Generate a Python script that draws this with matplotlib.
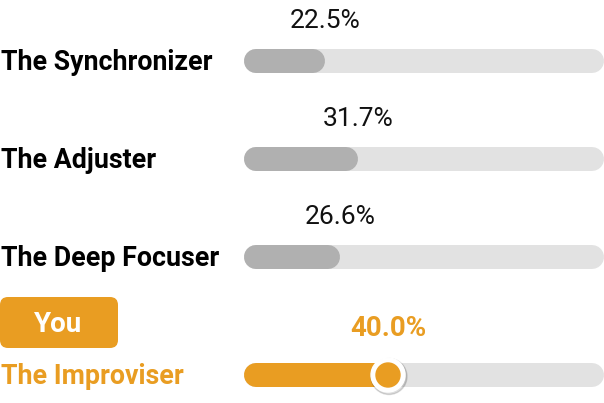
import matplotlib.pyplot as plt
from matplotlib.patches import FancyBboxPatch, Circle

plt.rcParams['font.family'] = 'Roboto'

# data
names = ['The Synchronizer', 'The Adjuster', 'The Deep Focuser', 'The Improviser']
values = [22.5, 31.7, 26.6, 40.0]
you_idx = 3

orange = '#E99D22'
gray_fill = '#B0B0B0'
track = '#E2E2E2'

fig = plt.figure(figsize=(6.04, 4.03), dpi=100)
ax = fig.add_axes([0, 0, 1, 1])
ax.set_xlim(0, 604)
ax.set_ylim(403, 0)
ax.axis('off')

x0, x1 = 244, 604   # track, 0..100 %
h = 24
rows = [61, 159, 257, 375]

for i, (nm, v) in enumerate(zip(names, values)):
    y = rows[i]
    me = (i == you_idx)
    col = orange if me else gray_fill
    xe = x0 + v / 100 * (x1 - x0)
    # track + fill, round caps
    ax.plot([x0 + h/2, x1 - h/2], [y, y], color=track, lw=h*0.72,
            solid_capstyle='round', zorder=1)
    ax.plot([x0 + h/2, xe - h/2], [y, y], color=col, lw=h*0.72,
            solid_capstyle='round', zorder=2)
    ax.text(1, y + 9, nm, ha='left', va='baseline', fontsize=19.3,
            fontweight='bold', color=orange if me else 'black')
    lx = x0 + max(v, 10) / 100 * (x1 - x0)
    if me:
        ax.add_patch(Circle((xe + 1, y + 1.5), 18, color='#00000022', zorder=3))
        ax.add_patch(Circle((xe, y), 17, color='white', zorder=4))
        ax.add_patch(Circle((xe, y), 12, color=orange, zorder=5))
        ax.text(lx, y - 39, f'{v:.1f}%', ha='center', va='baseline', fontsize=20,
                fontweight='bold', color=orange)
    else:
        ax.text(lx, y - 33, f'{v:.1f}%', ha='center', va='baseline', fontsize=19,
                fontweight='normal', color='#111111')

# "You" badge
ax.add_patch(FancyBboxPatch((8, 305), 102, 35, boxstyle='round,pad=8',
                            fc=orange, ec='none'))
ax.text(58, 332, 'You', ha='center', va='baseline', fontsize=20,
        fontweight='bold', color='white')

fig.savefig('out.png', dpi=100)
